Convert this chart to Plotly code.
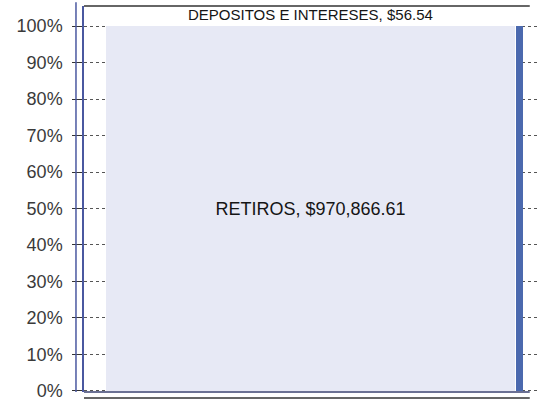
import plotly.graph_objects as go

# Data
series_names = ["RETIROS", "DEPOSITOS E INTERESES"]
series_values = [970866.61, 56.54]
tick_vals = [0, 10, 20, 30, 40, 50, 60, 70, 80, 90, 100]
tick_text = [f"{v}%" for v in tick_vals]

fig = go.Figure()

bar_col = "#e7e9f5"
edge_col = "#4b69ae"

# main (light) bar: RETIROS
fig.add_trace(go.Bar(
    x=[0.5], y=[series_values[0]], width=[0.903],
    name=series_names[0],
    marker=dict(color=bar_col, line=dict(width=0)),
    text=[f"{series_names[0]}, ${series_values[0]:,.2f}"],
    textposition="inside", insidetextanchor="middle",
    textangle=0, constraintext="none",
    textfont=dict(family="Liberation Sans, Arial, sans-serif", size=18, color="#151515"),
    hoverinfo="skip",
))
fig.add_trace(go.Bar(
    x=[0.5], y=[series_values[1]], width=[0.903],
    name=series_names[1],
    marker=dict(color=bar_col, line=dict(width=0)),
    hoverinfo="skip",
))
# dark edge strip of the bar
fig.add_trace(go.Bar(
    x=[0.961], y=[series_values[0]], width=[0.0155],
    marker=dict(color=edge_col, line=dict(width=0)),
    hoverinfo="skip",
))
fig.add_trace(go.Bar(
    x=[0.961], y=[series_values[1]], width=[0.0155],
    marker=dict(color=edge_col, line=dict(width=0)),
    hoverinfo="skip",
))

fig.add_annotation(
    x=0.5, y=103.3, xref="x", yref="y",
    text=f"{series_names[1]}, ${series_values[1]:,.2f}",
    showarrow=False,
    font=dict(family="Liberation Sans, Arial, sans-serif", size=15, color="#151515"),
)

# decorative frame lines
line_col = "#4a58a0"
fig.add_shape(type="line", xref="paper", yref="paper", x0=-0.0177, x1=-0.0177, y0=0.0, y1=1.01,
              line=dict(color=line_col, width=1.5))
fig.add_shape(type="line", xref="paper", yref="paper", x0=0, x1=0.984, y0=1.0, y1=1.0,
              line=dict(color="#333", width=1.5))
fig.add_shape(type="line", xref="paper", yref="paper", x0=0, x1=0.984, y0=0.0, y1=0.0,
              line=dict(color="#3a4270", width=1.5))
fig.add_shape(type="line", xref="paper", yref="paper", x0=0, x1=0.984, y0=-0.0155, y1=-0.0155,
              line=dict(color="#333", width=1.5))

fig.update_layout(
    width=537, height=401,
    margin=dict(l=84, r=0, t=6, b=9),
    barmode="stack", barnorm="percent",
    showlegend=False,
    paper_bgcolor="white", plot_bgcolor="white",
    font=dict(family="Liberation Sans, Arial, sans-serif", color="#333"),
    xaxis=dict(range=[0, 1], visible=False, fixedrange=True),
    yaxis=dict(
        range=[-0.3, 105.5], tickvals=tick_vals, ticktext=tick_text,
        showgrid=True, gridcolor="#555", griddash="dot", gridwidth=1,
        showline=True, linecolor=line_col, linewidth=1.5,
        ticks="outside", ticklen=10, tickcolor="#333",
        ticklabelstandoff=6, ticklabeloverflow="allow",
        tickfont=dict(size=18, color="#3a3a3a"),
        zeroline=False,
    ),
)

fig.write_html("out.html")
